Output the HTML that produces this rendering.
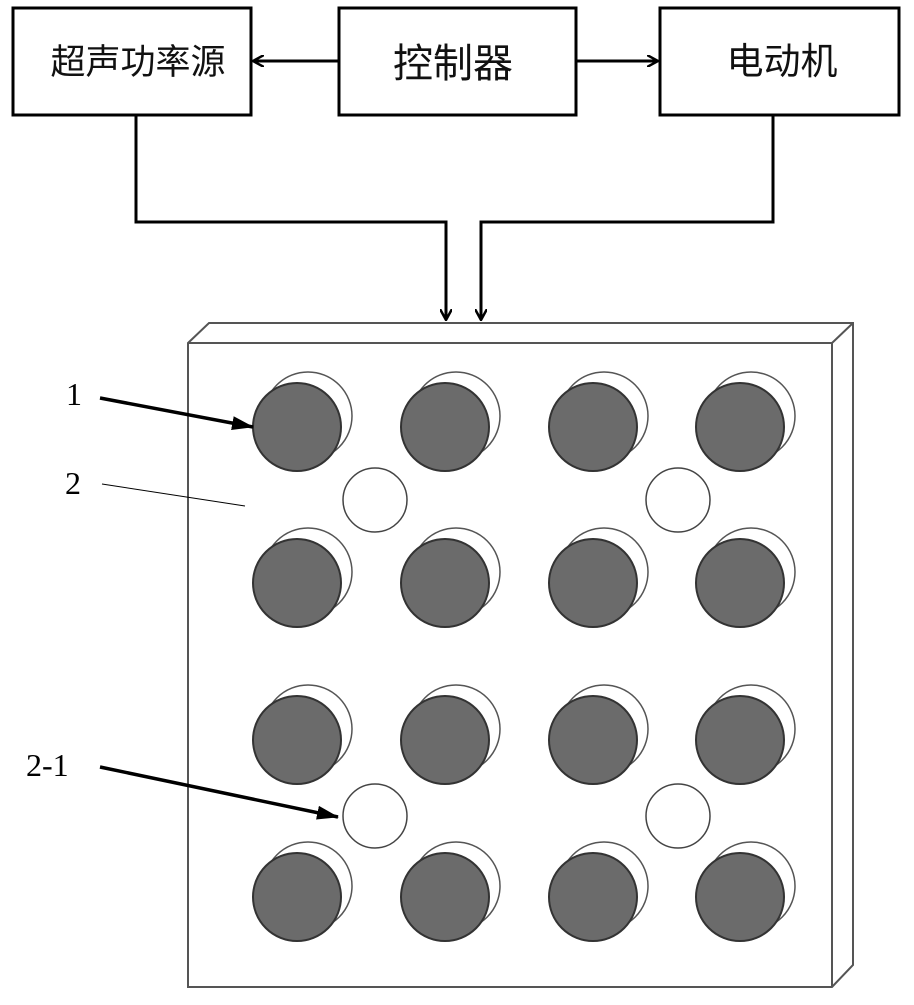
<!DOCTYPE html>
<html><head><meta charset="utf-8"><style>
html,body{margin:0;padding:0;background:#fff;}
</style></head><body>
<svg width="914" height="1000" viewBox="0 0 914 1000" xmlns="http://www.w3.org/2000/svg">
<defs>
<marker id="ah" markerWidth="12" markerHeight="12" refX="11" refY="6" orient="auto" markerUnits="userSpaceOnUse">
<path d="M0,0 L11,6 L0,12" fill="none" stroke="#000" stroke-width="2.5"/>
</marker>
<marker id="ahf" markerWidth="22" markerHeight="14" refX="21" refY="7" orient="auto" markerUnits="userSpaceOnUse">
<path d="M0,0 L22,7 L0,14 Z" fill="#000"/>
</marker>
</defs>
<g fill="none" stroke="#000" stroke-width="3">
<rect x="13" y="8" width="238" height="107"/>
<rect x="339" y="8" width="237" height="107"/>
<rect x="660" y="8" width="239" height="107"/>
<line x1="339" y1="61" x2="253" y2="61" marker-end="url(#ah)"/>
<line x1="576" y1="61" x2="658" y2="61" marker-end="url(#ah)"/>
<polyline points="136,115 136,222 446,222 446,320" marker-end="url(#ah)"/>
<polyline points="773,115 773,222 481,222 481,320" marker-end="url(#ah)"/>
</g>
<g font-family="'Liberation Sans','Noto Sans CJK SC',sans-serif" text-anchor="middle" fill="#111">
<text x="138" y="74" font-size="35">超声功率源</text>
<text x="453" y="77" font-size="40">控制器</text>
<text x="782" y="74" font-size="37">电动机</text>
</g>
<g fill="#fff" stroke="#555" stroke-width="2">
<polygon points="188,343 209,323 853,323 853,965 832,987 188,987"/>
<line x1="188" y1="343" x2="832" y2="343"/>
<line x1="832" y1="343" x2="853" y2="323"/>
<line x1="832" y1="343" x2="832" y2="987"/>
</g>
<g id="c">
<circle cx="308" cy="416" r="44" fill="#fff" stroke="#555" stroke-width="1.5"/>
<circle cx="297" cy="427" r="44" fill="#6b6b6b" stroke="#333" stroke-width="2"/>
</g>
<use href="#c" x="148"/><use href="#c" x="296"/><use href="#c" x="443"/>
<use href="#c" y="156"/><use href="#c" x="148" y="156"/><use href="#c" x="296" y="156"/><use href="#c" x="443" y="156"/>
<use href="#c" y="313"/><use href="#c" x="148" y="313"/><use href="#c" x="296" y="313"/><use href="#c" x="443" y="313"/>
<use href="#c" y="470"/><use href="#c" x="148" y="470"/><use href="#c" x="296" y="470"/><use href="#c" x="443" y="470"/>
<g fill="#fff" stroke="#444" stroke-width="1.5">
<circle cx="375" cy="500" r="32"/><circle cx="678" cy="500" r="32"/>
<circle cx="375" cy="816" r="32"/><circle cx="678" cy="816" r="32"/>
</g>
<g font-family="'Liberation Serif',serif" font-size="32" fill="#000">
<text x="66" y="405">1</text>
<text x="65" y="494">2</text>
<text x="26" y="776">2-1</text>
</g>
<g stroke="#000">
<line x1="100" y1="398" x2="253" y2="427" stroke-width="3.5" marker-end="url(#ahf)"/>
<line x1="102" y1="484" x2="245" y2="506" stroke-width="1"/>
<line x1="100" y1="767" x2="338" y2="817" stroke-width="3.5" marker-end="url(#ahf)"/>
</g>
</svg>
</body></html>
